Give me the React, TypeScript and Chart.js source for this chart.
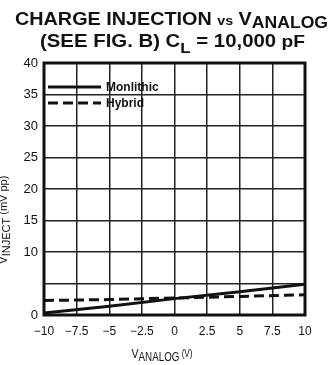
import React, { useEffect, useRef } from "react";
import { Chart, registerables } from "chart.js";

Chart.register(...registerables);

const vAnalog = [-10, -5, 0, 5, 10];
const monolithic = [0.3, 1.4, 2.6, 3.7, 4.9];
const hybrid = [2.3, 2.45, 2.7, 2.95, 3.2];
const xTicks = [-10, -7.5, -5, -2.5, 0, 2.5, 5, 7.5, 10];
const yTicks = [0, 5, 10, 15, 20, 25, 30, 35, 40];
const yLabelSkip = [5];
const seriesNames = ["Monlithic", "Hybrid"];

const FONT = '"Liberation Sans", Arial, sans-serif';

function drawSegments(
  ctx: CanvasRenderingContext2D,
  parts: { t: string; dy: number; size: number }[],
  cx: number,
  baseY: number,
  weight: string,
  targetWidth?: number
) {
  let total = 0;
  for (const p of parts) {
    ctx.font = `${weight} ${p.size}px ${FONT}`;
    total += ctx.measureText(p.t).width;
  }
  const sx = targetWidth ? targetWidth / total : 1;
  ctx.save();
  ctx.translate(cx - (total * sx) / 2, baseY);
  ctx.scale(sx, 1);
  let x = 0;
  ctx.textAlign = "left";
  ctx.textBaseline = "alphabetic";
  for (const p of parts) {
    ctx.font = `${weight} ${p.size}px ${FONT}`;
    ctx.fillText(p.t, x, p.dy);
    x += ctx.measureText(p.t).width;
  }
  ctx.restore();
}

const decorPlugin = {
  id: "decor",
  afterDraw(chart: any) {
    const ctx: CanvasRenderingContext2D = chart.ctx;
    const area = chart.chartArea;
    ctx.save();
    ctx.fillStyle = "#111";
    // Title
    drawSegments(ctx, [
      { t: "CHARGE INJECTION ", dy: 0, size: 18 },
      { t: "vs", dy: 0, size: 13 },
      { t: " V", dy: 0, size: 18 },
      { t: "ANALOG", dy: 3, size: 16 },
    ], 171.5, 25, "bold", 313);
    drawSegments(ctx, [
      { t: "(SEE FIG. B) C", dy: 0, size: 18 },
      { t: "L", dy: 6, size: 15 },
      { t: " = 10,000", dy: 0, size: 18 },
      { t: " pF", dy: 0, size: 17 },
    ], 172.5, 47, "bold", 265);
    // X axis title
    drawSegments(ctx, [
      { t: "V", dy: 0, size: 13 },
      { t: "ANALOG", dy: 3, size: 12 },
      { t: " (V)", dy: -1, size: 10 },
    ], 162, 358, "normal", 61);
    // Y axis title (clipped at left edge, as in the scan)
    ctx.save();
    ctx.translate(3, 220);
    ctx.rotate(-Math.PI / 2);
    drawSegments(ctx, [
      { t: "V", dy: 0, size: 12 },
      { t: "INJECT", dy: 3, size: 11 },
      { t: " (mV pp)", dy: 0, size: 11 },
    ], 0, 4, "normal");
    ctx.restore();
    // Legend
    const lx = area.left + 4;
    const rows = [
      { y: area.top + 24, dash: [] as number[] },
      { y: area.top + 40, dash: [10, 5] },
    ];
    rows.forEach((r, i) => {
      ctx.strokeStyle = "#111";
      ctx.lineWidth = 3;
      ctx.setLineDash(r.dash);
      ctx.beginPath();
      ctx.moveTo(lx, r.y);
      ctx.lineTo(lx + 53, r.y);
      ctx.stroke();
      ctx.setLineDash([]);
      ctx.font = `bold 12px ${FONT}`;
      ctx.textAlign = "left";
      ctx.textBaseline = "middle";
      ctx.fillText(seriesNames[i], lx + 58, r.y + 1);
    });
    // Border
    ctx.strokeStyle = "#111";
    ctx.lineWidth = 3;
    ctx.strokeRect(area.left, area.top, area.right - area.left, area.bottom - area.top);
    ctx.restore();
  },
};

export default function App() {
  const ref = useRef<HTMLCanvasElement>(null);
  useEffect(() => {
    if (!ref.current) return;
    const chart = new Chart(ref.current, {
      type: "line",
      data: {
        datasets: [
          {
            label: seriesNames[0],
            data: vAnalog.map((x, i) => ({ x, y: monolithic[i] })),
            borderColor: "#111",
            borderWidth: 3,
            pointRadius: 0,
            tension: 0,
          },
          {
            label: seriesNames[1],
            data: vAnalog.map((x, i) => ({ x, y: hybrid[i] })),
            borderColor: "#111",
            borderWidth: 3,
            borderDash: [10, 5],
            pointRadius: 0,
            tension: 0,
          },
        ],
      },
      options: {
        animation: false,
        responsive: false,
        maintainAspectRatio: false,
        layout: { padding: { left: 0, top: 63, right: 29, bottom: 0 } },
        plugins: { legend: { display: false }, title: { display: false }, tooltip: { enabled: false } },
        scales: {
          x: {
            type: "linear",
            min: -10,
            max: 10,
            afterBuildTicks: (s: any) => { s.ticks = xTicks.map((v) => ({ value: v })); },
            afterFit: (s: any) => { s.height = 50; },
            grid: { color: "#222", lineWidth: 1.5, drawTicks: false },
            border: { display: false },
            ticks: {
              padding: 9,
              color: "#111",
              font: { family: FONT, size: 12 },
              callback: (v: any) => (Number(v) < 0 ? "\u2212" + Math.abs(Number(v)) : String(v)),
            },
          },
          y: {
            type: "linear",
            min: 0,
            max: 40,
            afterBuildTicks: (s: any) => { s.ticks = yTicks.map((v) => ({ value: v })); },
            afterFit: (s: any) => { s.width = 44; },
            grid: { color: "#222", lineWidth: 1.5, drawTicks: false },
            border: { display: false },
            ticks: {
              padding: 6,
              color: "#111",
              font: { family: FONT, size: 13 },
              callback: (v: any) => (yLabelSkip.includes(Number(v)) ? "" : String(v)),
            },
          },
        },
      },
      plugins: [decorPlugin],
    });
    return () => chart.destroy();
  }, []);
  return (
    <div style={{ position: "fixed", left: 0, top: 0, width: 334, height: 365, background: "#fff" }}>
      <canvas ref={ref} width={334} height={365} style={{ display: "block", width: 334, height: 365 }} />
    </div>
  );
}
